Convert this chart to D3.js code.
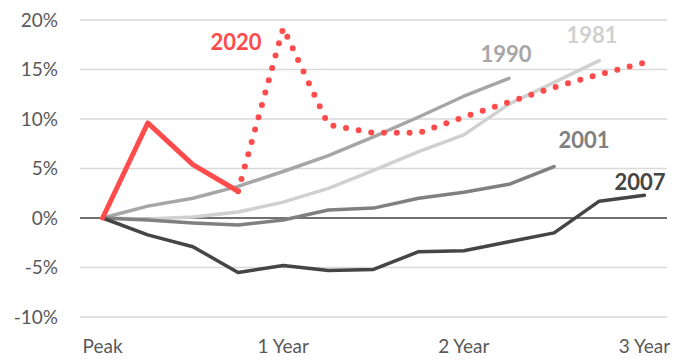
<!DOCTYPE html>
<html>
<head>
<meta charset="utf-8">
<script src="https://cdn.jsdelivr.net/npm/d3@7"></script>
<style>
  body { margin: 0; background: #fff; }
  svg { display: block; font-family: Lato, "Open Sans", sans-serif; }
</style>
</head>
<body>
<div id="chart"></div>
<script>
// quarters since peak, 0..12
const quarters = d3.range(13);
const xTickLabels = { 0: "Peak", 4: "1 Year", 8: "2 Year", 12: "3 Year" };
const yTicks = [-10, -5, 0, 5, 10, 15, 20];

// % change from peak, one value per quarter (null = no data)
const s1981 = [0, -0.1, 0.1, 0.6, 1.6, 3.0, 4.8, 6.7, 8.4, 11.5, 13.7, 15.9];
const s1990 = [0, 1.2, 2.0, 3.2, 4.7, 6.3, 8.2, 10.2, 12.3, 14.1];
const s2001 = [0, -0.2, -0.5, -0.7, -0.2, 0.8, 1.0, 2.0, 2.6, 3.4, 5.2];
const s2007 = [0, -1.7, -2.9, -5.5, -4.8, -5.3, -5.2, -3.4, -3.3, -2.4, -1.5, 1.7, 2.3];
const s2020 = [0, 9.6, 5.4, 2.7];
const s2020dots = [null, null, null, 2.7, 19.2, 9.4, 8.6, 8.6, 10.2, 11.7, 13.2, 14.5, 15.7];

const size = { x: 682, y: 360 };
const plot = { left: 80, right: 667, top: 20, bottom: 317 };

const xScale = d3.scaleBand()
  .domain(quarters)
  .range([plot.left, plot.right]);
const xc = q => xScale(q) + xScale.bandwidth() / 2;

const yScale = d3.scaleLinear()
  .domain([-10, 20])
  .range([plot.bottom, plot.top]);

const svg = d3.select("#chart")
  .append("svg")
  .attr("width", size.x)
  .attr("height", size.y);

// gridlines
svg.append("g")
  .selectAll("line")
  .data(yTicks.filter(d => d !== 0))
  .join("line")
  .attr("x1", plot.left)
  .attr("x2", plot.right)
  .attr("y1", d => yScale(d))
  .attr("y2", d => yScale(d))
  .attr("stroke", "#d9d9d9")
  .attr("stroke-width", 1.5);

svg.append("line")
  .attr("x1", plot.left)
  .attr("x2", plot.right)
  .attr("y1", yScale(0))
  .attr("y2", yScale(0))
  .attr("stroke", "#404040")
  .attr("stroke-width", 1.5);

// y axis labels
svg.append("g")
  .selectAll("text")
  .data(yTicks)
  .join("text")
  .attr("x", 58)
  .attr("y", d => yScale(d))
  .attr("dy", "0.36em")
  .attr("text-anchor", "end")
  .attr("font-size", 19)
  .attr("fill", "#595959")
  .text(d => d + "%");

// x axis labels
svg.append("g")
  .selectAll("text")
  .data(Object.entries(xTickLabels))
  .join("text")
  .attr("x", d => xc(+d[0]))
  .attr("y", 353)
  .attr("text-anchor", "middle")
  .attr("font-size", 19)
  .attr("fill", "#595959")
  .text(d => d[1]);

const line = d3.line()
  .defined(d => d[1] != null)
  .x(d => xc(d[0]))
  .y(d => yScale(d[1]));

const series = [
  { name: "1981", values: s1981, color: "#d0d0d0", width: 3.5 },
  { name: "1990", values: s1990, color: "#a6a6a6", width: 3.5 },
  { name: "2001", values: s2001, color: "#808080", width: 3.5 },
  { name: "2007", values: s2007, color: "#454545", width: 3.5 },
  { name: "2020", values: s2020, color: "#ff4b4b", width: 5 }
];

series.forEach(s => {
  svg.append("path")
    .datum(s.values.map((v, i) => [i, v]))
    .attr("d", line)
    .attr("fill", "none")
    .attr("stroke", s.color)
    .attr("stroke-width", s.width)
    .attr("stroke-linejoin", "round")
    .attr("stroke-linecap", "round");
});

svg.append("path")
  .datum(s2020dots.map((v, i) => [i, v]))
  .attr("d", line)
  .attr("fill", "none")
  .attr("stroke", "#ff4b4b")
  .attr("stroke-width", 6)
  .attr("stroke-linecap", "round")
  .attr("stroke-dasharray", "0 12.8")
  .attr("stroke-dashoffset", -12.8);

// series labels
const labelPos = {
  "2020": { x: 236, y: 50 },
  "1990": { x: 506, y: 62 },
  "1981": { x: 592, y: 43 },
  "2001": { x: 584, y: 148 },
  "2007": { x: 640, y: 190 }
};

svg.append("g")
  .selectAll("text")
  .data(series)
  .join("text")
  .attr("x", d => labelPos[d.name].x)
  .attr("y", d => labelPos[d.name].y)
  .attr("text-anchor", "middle")
  .attr("font-size", 22)
  .attr("font-weight", 700)
  .attr("fill", d => d.color)
  .text(d => d.name);
</script>
</body>
</html>
